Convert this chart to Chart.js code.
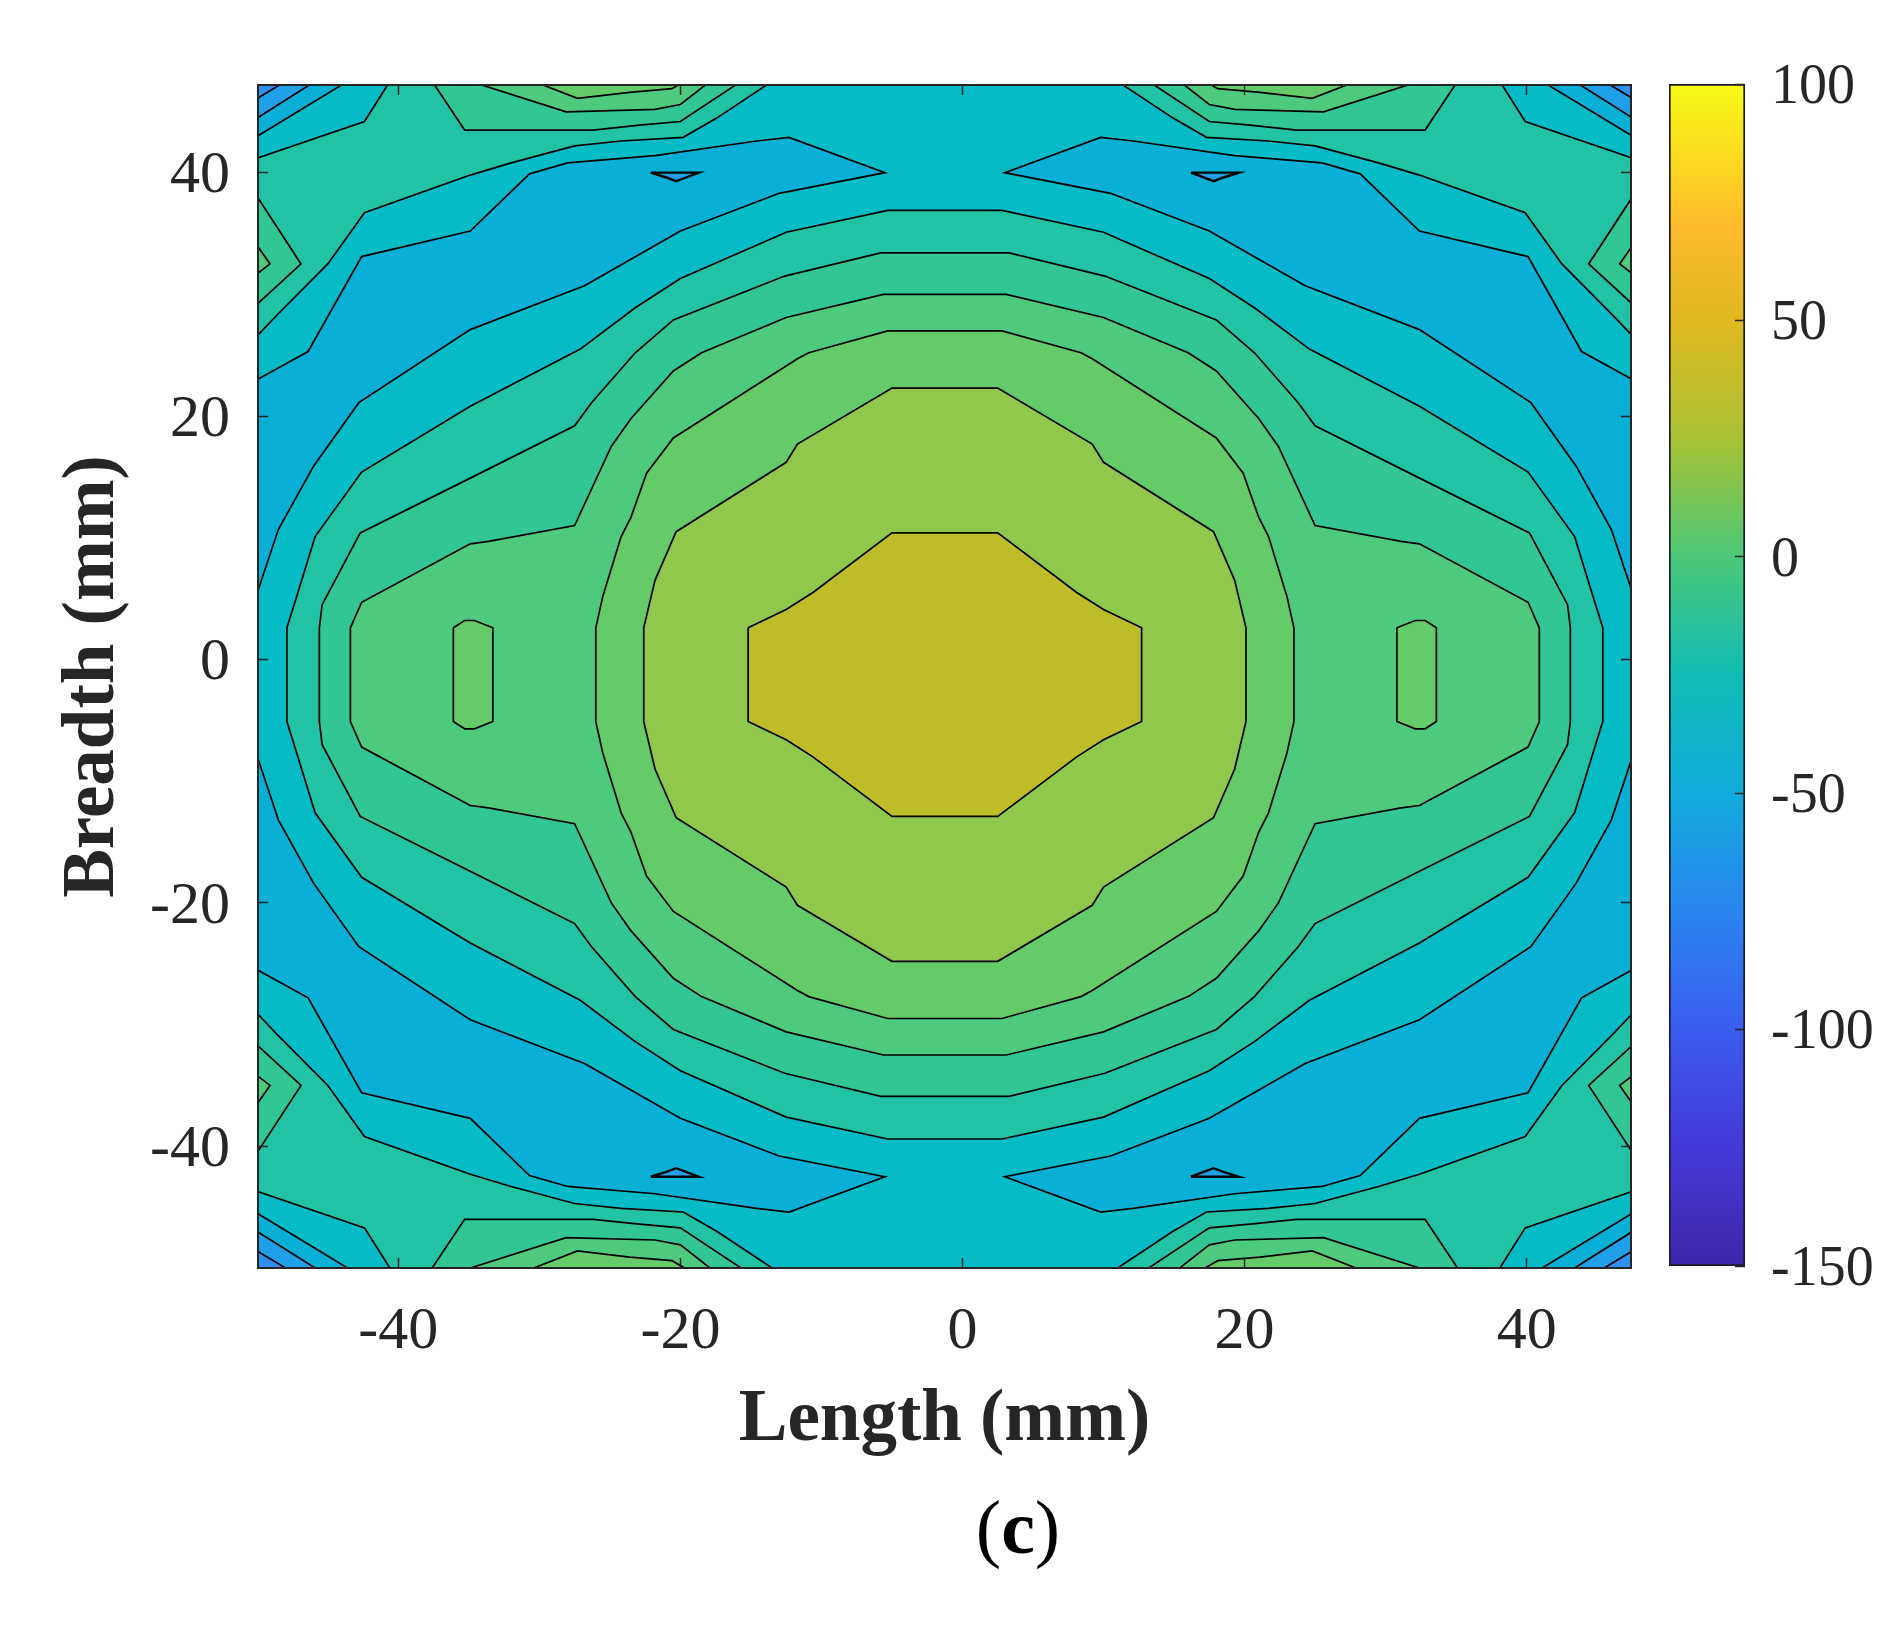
<!DOCTYPE html>
<html>
<head>
<meta charset="utf-8">
<style>
  body { margin: 0; background: #fff; width: 1901px; height: 1634px; position: relative; overflow: hidden; }
  canvas { position: absolute; top: 0; }
  #mainChart { left: 0; }
  #barChart { left: 1640px; }
  #panelTag { position: absolute; left: 1018px; top: 1527px; transform: translate(-50%, -50%);
              font: 76px "Liberation Serif"; color: #000; line-height: 1; }
</style>
<script src="https://cdn.jsdelivr.net/npm/chart.js@4/dist/chart.umd.min.js"></script>
</head>
<body>
<canvas id="mainChart" width="1901" height="1634"></canvas>
<canvas id="barChart" width="261" height="1634"></canvas>
<div id="panelTag">(<b>c</b>)</div>
<script>
const xTicks = [-40, -20, 0, 20, 40];
const yTicks = [-40, -20, 0, 20, 40];
const barTicks = [-150, -100, -50, 0, 50, 100];
const xRange = [-49.95, 47.4];
const yRange = [-50, 47.2];
const barRange = [-150, 100];

// contours, [length, breadth] in mm
const plotRect = [[-50,47.5],[47.5,47.5],[47.5,-50],[-50,-50]];

const outerRing = [
  [-50,26.6],[-48.6,28.3],[-45,32.5],[-42.4,36.7],[-34.9,39.8],[-32,40.8],[-27.5,42.2],[-24.2,42.6],[-19.8,42.9],[-17.4,44.5],[-13.5,47.5],
  [11,47.5],[14.9,44.5],[17.3,42.9],[21.7,42.6],[25,42.2],[29.5,40.8],[32.4,39.8],[39.9,36.7],[42.5,32.5],[46.1,28.3],[47.5,26.6],
  [47.5,-29.1],[46.1,-30.8],[42.5,-35],[39.9,-39.2],[32.4,-42.3],[29.5,-43.3],[25,-44.7],[21.7,-45.1],[17.3,-45.4],[14.9,-47],[11,-50],
  [-13.5,-50],[-17.4,-47],[-19.8,-45.4],[-24.2,-45.1],[-27.5,-44.7],[-32,-43.3],[-34.9,-42.3],[-42.4,-39.2],[-45,-35],[-48.6,-30.8],[-50,-29.1]
];

const lobeTopLeft = [[-50,5.5],[-48.5,10.7],[-46,15.9],[-42.8,21.1],[-34.9,27.1],[-26.8,30.7],[-20,35.2],[-13,38.3],[-5.5,40],[-12.3,42.9],[-14.6,42.6],[-21.8,41.4],[-28,40.8],[-30.7,39.9],[-34.9,35.2],[-42.6,33.1],[-46.4,25.3],[-50,23]];
const lobeTopRight = [[47.5,5.5],[46,10.7],[43.5,15.9],[40.3,21.1],[32.4,27.1],[24.3,30.7],[17.5,35.2],[10.5,38.3],[3,40],[9.8,42.9],[12.1,42.6],[19.3,41.4],[25.5,40.8],[28.2,39.9],[32.4,35.2],[40.1,33.1],[43.9,25.3],[47.5,23]];
const lobeBottomLeft = [[-50,-8],[-48.5,-13.2],[-46,-18.4],[-42.8,-23.6],[-34.9,-29.6],[-26.8,-33.2],[-20,-37.7],[-13,-40.8],[-5.5,-42.5],[-12.3,-45.4],[-14.6,-45.1],[-21.8,-43.9],[-28,-43.3],[-30.7,-42.4],[-34.9,-37.7],[-42.6,-35.6],[-46.4,-27.8],[-50,-25.5]];
const lobeBottomRight = [[47.5,-8],[46,-13.2],[43.5,-18.4],[40.3,-23.6],[32.4,-29.6],[24.3,-33.2],[17.5,-37.7],[10.5,-40.8],[3,-42.5],[9.8,-45.4],[12.1,-45.1],[19.3,-43.9],[25.5,-43.3],[28.2,-42.4],[32.4,-37.7],[40.1,-35.6],[43.9,-27.8],[47.5,-25.5]];

const ringG = [
  [-47.9,2.6],[-47.2,5.2],[-45.9,10.1],[-42.6,15.4],[-34.9,20.8],[-27.1,25.5],[-23.2,28.9],[-20,31.3],[-12.5,35.1],[-5.3,36.9],
  [2.8,36.9],[10,35.1],[17.5,31.3],[20.7,28.9],[24.6,25.5],[32.4,20.8],[40.1,15.4],[43.4,10.1],[44.7,5.2],[45.4,2.6],
  [45.4,-5.1],[44.7,-7.7],[43.4,-12.6],[40.1,-17.9],[32.4,-23.3],[24.6,-28],[20.7,-31.4],[17.5,-33.8],[10,-37.6],[2.8,-39.4],
  [-5.3,-39.4],[-12.5,-37.6],[-20,-33.8],[-23.2,-31.4],[-27.1,-28],[-34.9,-23.3],[-42.6,-17.9],[-45.9,-12.6],[-47.2,-7.7],[-47.9,-5.1]
];
const ringF = [
  [-45.6,2.6],[-45.4,4.5],[-42.7,10.4],[-34.9,14.9],[-27.5,19.2],[-26.3,21.1],[-23.2,25.2],[-20.5,27.9],[-12.6,31.5],[-5.8,33.4],
  [3.3,33.4],[10.1,31.5],[18,27.9],[20.7,25.2],[23.8,21.1],[25,19.2],[32.4,14.9],[40.2,10.4],[42.9,4.5],[43.1,2.6],
  [43.1,-5.1],[42.9,-7],[40.2,-12.9],[32.4,-17.4],[25,-21.7],[23.8,-23.6],[20.7,-27.7],[18,-30.4],[10.1,-34],[3.3,-35.9],
  [-5.8,-35.9],[-12.6,-34],[-20.5,-30.4],[-23.2,-27.7],[-26.3,-23.6],[-27.5,-21.7],[-34.9,-17.4],[-42.7,-12.9],[-45.4,-7],[-45.6,-5.1]
];
const ringD = [
  [-43.4,2.6],[-42.6,4.7],[-34.9,9.5],[-33.6,9.7],[-27.5,11],[-24.9,17.5],[-23.5,19.8],[-20.5,23.7],[-18.5,25.2],[-12.5,28.1],[-5.6,30],
  [3.1,30],[10,28.1],[16,25.2],[18,23.7],[21,19.8],[22.4,17.5],[25,11],[31.1,9.7],[32.4,9.5],[40.1,4.7],[40.9,2.6],
  [40.9,-5.1],[40.1,-7.2],[32.4,-12],[31.1,-12.2],[25,-13.5],[22.4,-20],[21,-22.3],[18,-26.2],[16,-27.7],[10,-30.6],[3.1,-32.5],
  [-5.6,-32.5],[-12.5,-30.6],[-18.5,-27.7],[-20.5,-26.2],[-23.5,-22.3],[-24.9,-20],[-27.5,-13.5],[-33.6,-12.2],[-34.9,-12],[-42.6,-7.2],[-43.4,-5.1]
];
const ringC = [
  [-26,2.6],[-25.5,5.2],[-24.2,10.1],[-23.5,11.7],[-22.4,15.3],[-20.5,18.2],[-11.7,24.7],[-10.9,25.2],[-5.3,27],
  [2.8,27],[8.4,25.2],[9.2,24.7],[18,18.2],[19.9,15.3],[21,11.7],[21.7,10.1],[23,5.2],[23.5,2.6],
  [23.5,-5.1],[23,-7.7],[21.7,-12.6],[21,-14.2],[19.9,-17.8],[18,-20.7],[9.2,-27.2],[8.4,-27.7],[2.8,-29.5],
  [-5.3,-29.5],[-10.9,-27.7],[-11.7,-27.2],[-20.5,-20.7],[-22.4,-17.8],[-23.5,-14.2],[-24.2,-12.6],[-25.5,-7.7],[-26,-5.1]
];
const islandLeft = [[-36.1,2.6],[-35.3,3.2],[-34.6,3.2],[-33.3,2.6],[-33.3,-5.1],[-34.6,-5.7],[-35.3,-5.7],[-36.1,-5.1]];
const islandRight = [[30.8,2.6],[32.1,3.2],[32.8,3.2],[33.6,2.6],[33.6,-5.1],[32.8,-5.7],[32.1,-5.7],[30.8,-5.1]];
const ringB = [
  [-22.6,2.6],[-21.8,6.5],[-20.3,10.5],[-12.5,16.2],[-11.7,17.7],[-5,22.3],
  [2.5,22.3],[9.2,17.7],[10,16.2],[17.8,10.5],[19.3,6.5],[20.1,2.6],
  [20.1,-5.1],[19.3,-9],[17.8,-13],[10,-18.7],[9.2,-20.2],[2.5,-24.8],
  [-5,-24.8],[-11.7,-20.2],[-12.5,-18.7],[-20.3,-13],[-21.8,-9],[-22.6,-5.1]
];
const ringA = [
  [-15.2,2.6],[-12.5,4.1],[-10.6,5.5],[-5,10.4],
  [2.5,10.4],[8.1,5.5],[10,4.1],[12.7,2.6],
  [12.7,-5.1],[10,-6.6],[8.1,-8],[2.5,-12.9],
  [-5,-12.9],[-10.6,-8],[-12.5,-6.6],[-15.2,-5.1]
];

const edgeTriTL = [[-50,38],[-46.9,32.5],[-50,29.2]];
const edgeTriTR = [[47.5,38],[44.4,32.5],[47.5,29.2]];
const edgeTriBL = [[-50,-40.5],[-46.9,-35],[-50,-31.7]];
const edgeTriBR = [[47.5,-40.5],[44.4,-35],[47.5,-31.7]];
const edgeDotTL = [[-50,34],[-49.1,32.5],[-50,31.7]];
const edgeDotTR = [[47.5,34],[46.6,32.5],[47.5,31.7]];
const edgeDotBL = [[-50,-36.5],[-49.1,-35],[-50,-34.2]];
const edgeDotBR = [[47.5,-36.5],[46.6,-35],[47.5,-34.2]];

const capOneTL = [[-37.6,47.5],[-35.3,43.5],[-26.2,43.5],[-22.9,43.9],[-20,44.2],[-15.7,47.5]];
const capOneTR = [[35.1,47.5],[32.8,43.5],[23.7,43.5],[20.4,43.9],[17.5,44.2],[13.2,47.5]];
const capOneBL = [[-37.6,-50],[-35.3,-46],[-26.2,-46],[-22.9,-46.4],[-20,-46.7],[-15.7,-50]];
const capOneBR = [[35.1,-50],[32.8,-46],[23.7,-46],[20.4,-46.4],[17.5,-46.7],[13.2,-50]];
const capTwoTL = [[-34.9,47.5],[-28.1,45],[-21.8,45.2],[-20,45.6],[-17.9,47.5]];
const capTwoTR = [[32.4,47.5],[25.6,45],[19.3,45.2],[17.5,45.6],[15.4,47.5]];
const capTwoBL = [[-34.9,-50],[-28.1,-47.5],[-21.8,-47.7],[-20,-48.1],[-17.9,-50]];
const capTwoBR = [[32.4,-50],[25.6,-47.5],[19.3,-47.7],[17.5,-48.1],[15.4,-50]];
const capThreeTL = [[-30.4,47.5],[-27.3,46.1],[-23.6,46.6],[-20.6,46.9],[-19.7,47.5]];
const capThreeTR = [[27.9,47.5],[24.8,46.1],[21.1,46.6],[18.1,46.9],[17.2,47.5]];
const capThreeBL = [[-30.4,-50],[-27.3,-48.6],[-23.6,-49.1],[-20.6,-49.4],[-19.7,-50]];
const capThreeBR = [[27.9,-50],[24.8,-48.6],[21.1,-49.1],[18.1,-49.4],[17.2,-50]];

const cornerOneTL = [[-50,41.2],[-42.4,44.2],[-40.6,47.5],[-50,47.5]];
const cornerOneTR = [[47.5,41.2],[39.9,44.2],[38.1,47.5],[47.5,47.5]];
const cornerOneBL = [[-50,-43.7],[-42.4,-46.7],[-40.6,-50],[-50,-50]];
const cornerOneBR = [[47.5,-43.7],[39.9,-46.7],[38.1,-50],[47.5,-50]];
const cornerTwoTL = [[-50,43],[-43.6,47.5],[-50,47.5]];
const cornerTwoTR = [[47.5,43],[41.1,47.5],[47.5,47.5]];
const cornerTwoBL = [[-50,-45.5],[-43.6,-50],[-50,-50]];
const cornerTwoBR = [[47.5,-45.5],[41.1,-50],[47.5,-50]];
const cornerThreeTL = [[-50,44.5],[-45.9,47.5],[-50,47.5]];
const cornerThreeTR = [[47.5,44.5],[43.4,47.5],[47.5,47.5]];
const cornerThreeBL = [[-50,-47],[-45.9,-50],[-50,-50]];
const cornerThreeBR = [[47.5,-47],[43.4,-50],[47.5,-50]];
const cornerFourTL = [[-50,46.1],[-48,47.5],[-50,47.5]];
const cornerFourTR = [[47.5,46.1],[45.5,47.5],[47.5,47.5]];
const cornerFourBL = [[-50,-48.6],[-48,-50],[-50,-50]];
const cornerFourBR = [[47.5,-48.6],[45.5,-50],[47.5,-50]];

const lensTL = [[-22.1,40],[-18.7,40],[-19.6,39.6],[-20.3,39.3],[-21,39.6]];
const lensTR = [[16.2,40],[19.6,40],[18.5,39.6],[17.8,39.3],[17.1,39.6]];
const lensBL = [[-22.1,-42.5],[-18.7,-42.5],[-19.6,-42.1],[-20.3,-41.8],[-21,-42.1]];
const lensBR = [[16.2,-42.5],[19.6,-42.5],[18.5,-42.1],[17.8,-41.8],[17.1,-42.1]];

// band colours, low to high
const bandLens = '#1fa0e8';
const bandFour = '#2f90f0';
const bandBlue = '#0aafd6';
const bandCyan = '#05bbc5';
const bandTeal = '#22c3a4';
const bandMint = '#32c694';
const bandGreen = '#4dca7e';
const bandLeaf = '#64cb68';
const bandLime = '#90c84c';
const bandOlive = '#bdbd2a';

const barStops = [
  [0, '#3e26a8'], [0.1, '#4538d8'], [0.2, '#3a5cf0'], [0.3, '#2a85f0'], [0.4, '#12acdc'],
  [0.5, '#10bcb4'], [0.6, '#4cc878'], [0.7, '#a8c234'], [0.8, '#e0b820'], [0.88, '#fdbb2c'], [1, '#f9fb15']
];

// paint order, first one is at the bottom. third item is the line width if not the usual one
const layers = [
  [plotRect, bandTeal, 0],
  [outerRing, bandCyan],
  [lobeTopLeft, bandBlue], [lobeTopRight, bandBlue], [lobeBottomLeft, bandBlue], [lobeBottomRight, bandBlue],
  [ringG, bandTeal], [ringF, bandMint], [ringD, bandGreen],
  [ringC, bandLeaf], [islandLeft, bandLeaf], [islandRight, bandLeaf],
  [ringB, bandLime], [ringA, bandOlive],
  [edgeTriTL, bandMint], [edgeTriTR, bandMint], [edgeTriBL, bandMint], [edgeTriBR, bandMint],
  [edgeDotTL, bandGreen], [edgeDotTR, bandGreen], [edgeDotBL, bandGreen], [edgeDotBR, bandGreen],
  [capOneTL, bandMint], [capOneTR, bandMint], [capOneBL, bandMint], [capOneBR, bandMint],
  [capTwoTL, bandGreen], [capTwoTR, bandGreen], [capTwoBL, bandGreen], [capTwoBR, bandGreen],
  [capThreeTL, bandLeaf], [capThreeTR, bandLeaf], [capThreeBL, bandLeaf], [capThreeBR, bandLeaf],
  [cornerOneTL, bandCyan], [cornerOneTR, bandCyan], [cornerOneBL, bandCyan], [cornerOneBR, bandCyan],
  [cornerTwoTL, bandBlue], [cornerTwoTR, bandBlue], [cornerTwoBL, bandBlue], [cornerTwoBR, bandBlue],
  [cornerThreeTL, bandLens], [cornerThreeTR, bandLens], [cornerThreeBL, bandLens], [cornerThreeBR, bandLens],
  [cornerFourTL, bandFour], [cornerFourTR, bandFour], [cornerFourBL, bandFour], [cornerFourBR, bandFour],
  [lensTL, bandLens, 2.4], [lensTR, bandLens, 2.4], [lensBL, bandLens, 2.4], [lensBR, bandLens, 2.4]
];

const serif = '"Liberation Serif"';
const inkColor = '#262626';

const datasets = layers.map(function (layer, i) {
  const ring = layer[0].concat([layer[0][0]]);
  return {
    data: ring.map(p => ({ x: p[0], y: p[1] })),
    showLine: true,
    fill: 'shape',
    backgroundColor: layer[1],
    borderColor: '#000',
    borderWidth: layer[2] === undefined ? 1.7 : layer[2],
    pointRadius: 0,
    pointHoverRadius: 0,
    order: layers.length - i
  };
});

function axisGrid() {
  return { drawOnChartArea: false, tickLength: -10, tickColor: inkColor, tickWidth: 1.5, z: 1 };
}
function axisBorder() {
  return { color: inkColor, width: 2, z: 1 };
}
function useTicks(values) {
  return function (scale) { scale.ticks = values.map(v => ({ value: v })); };
}

new Chart(document.getElementById('mainChart'), {
  type: 'scatter',
  data: { datasets: datasets },
  options: {
    responsive: false,
    animation: false,
    events: [],
    layout: { padding: { left: 50, right: 270, top: 85, bottom: 164 } },
    scales: {
      x: {
        position: 'bottom', min: xRange[0], max: xRange[1],
        afterBuildTicks: useTicks(xTicks),
        afterFit: s => { s.height = 202; },
        grid: axisGrid(), border: axisBorder(),
        ticks: { color: inkColor, font: { family: serif, size: 60 }, padding: 38, maxRotation: 0, autoSkip: false, callback: v => String(v) },
        title: { display: true, text: 'Length (mm)', color: inkColor, font: { family: serif, size: 73, weight: 'bold' }, padding: { top: 0, bottom: 5 } }
      },
      y: {
        position: 'left', min: yRange[0], max: yRange[1],
        afterBuildTicks: useTicks(yTicks),
        afterFit: s => { s.width = 208; },
        grid: axisGrid(), border: axisBorder(),
        ticks: { color: inkColor, font: { family: serif, size: 60 }, padding: 38, labelOffset: 4, autoSkip: false, callback: v => String(v) },
        title: { display: true, text: 'Breadth (mm)', color: inkColor, font: { family: serif, size: 73, weight: 'bold' }, padding: { top: 0, bottom: 0 } }
      },
      xTop: {
        axis: 'x', position: 'top', min: xRange[0], max: xRange[1],
        afterBuildTicks: useTicks(xTicks),
        afterFit: s => { s.height = 0; },
        grid: axisGrid(), border: axisBorder(),
        ticks: { display: false }
      },
      yRight: {
        axis: 'y', position: 'right', min: yRange[0], max: yRange[1],
        afterBuildTicks: useTicks(yTicks),
        afterFit: s => { s.width = 0; },
        grid: axisGrid(), border: axisBorder(),
        ticks: { display: false }
      }
    },
    plugins: { legend: { display: false }, tooltip: { enabled: false }, title: { display: false } }
  }
});

// colour bar sits in its own canvas
new Chart(document.getElementById('barChart'), {
  type: 'bar',
  data: {
    labels: [''],
    datasets: [{
      data: [barRange],
      barPercentage: 1,
      categoryPercentage: 1,
      borderColor: '#1a1a2a',
      borderWidth: 2,
      borderSkipped: false,
      backgroundColor: function (ctx) {
        const area = ctx.chart.chartArea;
        if (!area) return '#fff';
        const grad = ctx.chart.ctx.createLinearGradient(0, area.bottom, 0, area.top);
        barStops.forEach(s => grad.addColorStop(s[0], s[1]));
        return grad;
      }
    }]
  },
  options: {
    responsive: false,
    animation: false,
    events: [],
    layout: { padding: { left: 29, top: 84, bottom: 368, right: 0 } },
    scales: {
      x: { display: false },
      y: {
        position: 'right', min: barRange[0], max: barRange[1],
        afterBuildTicks: useTicks(barTicks),
        afterFit: s => { s.width = 156; },
        grid: axisGrid(), border: { display: false },
        ticks: { color: inkColor, font: { family: serif, size: 56 }, padding: 36, labelOffset: 4, autoSkip: false, callback: v => String(v) }
      }
    },
    plugins: { legend: { display: false }, tooltip: { enabled: false }, title: { display: false } }
  }
});
</script>
</body>
</html>
